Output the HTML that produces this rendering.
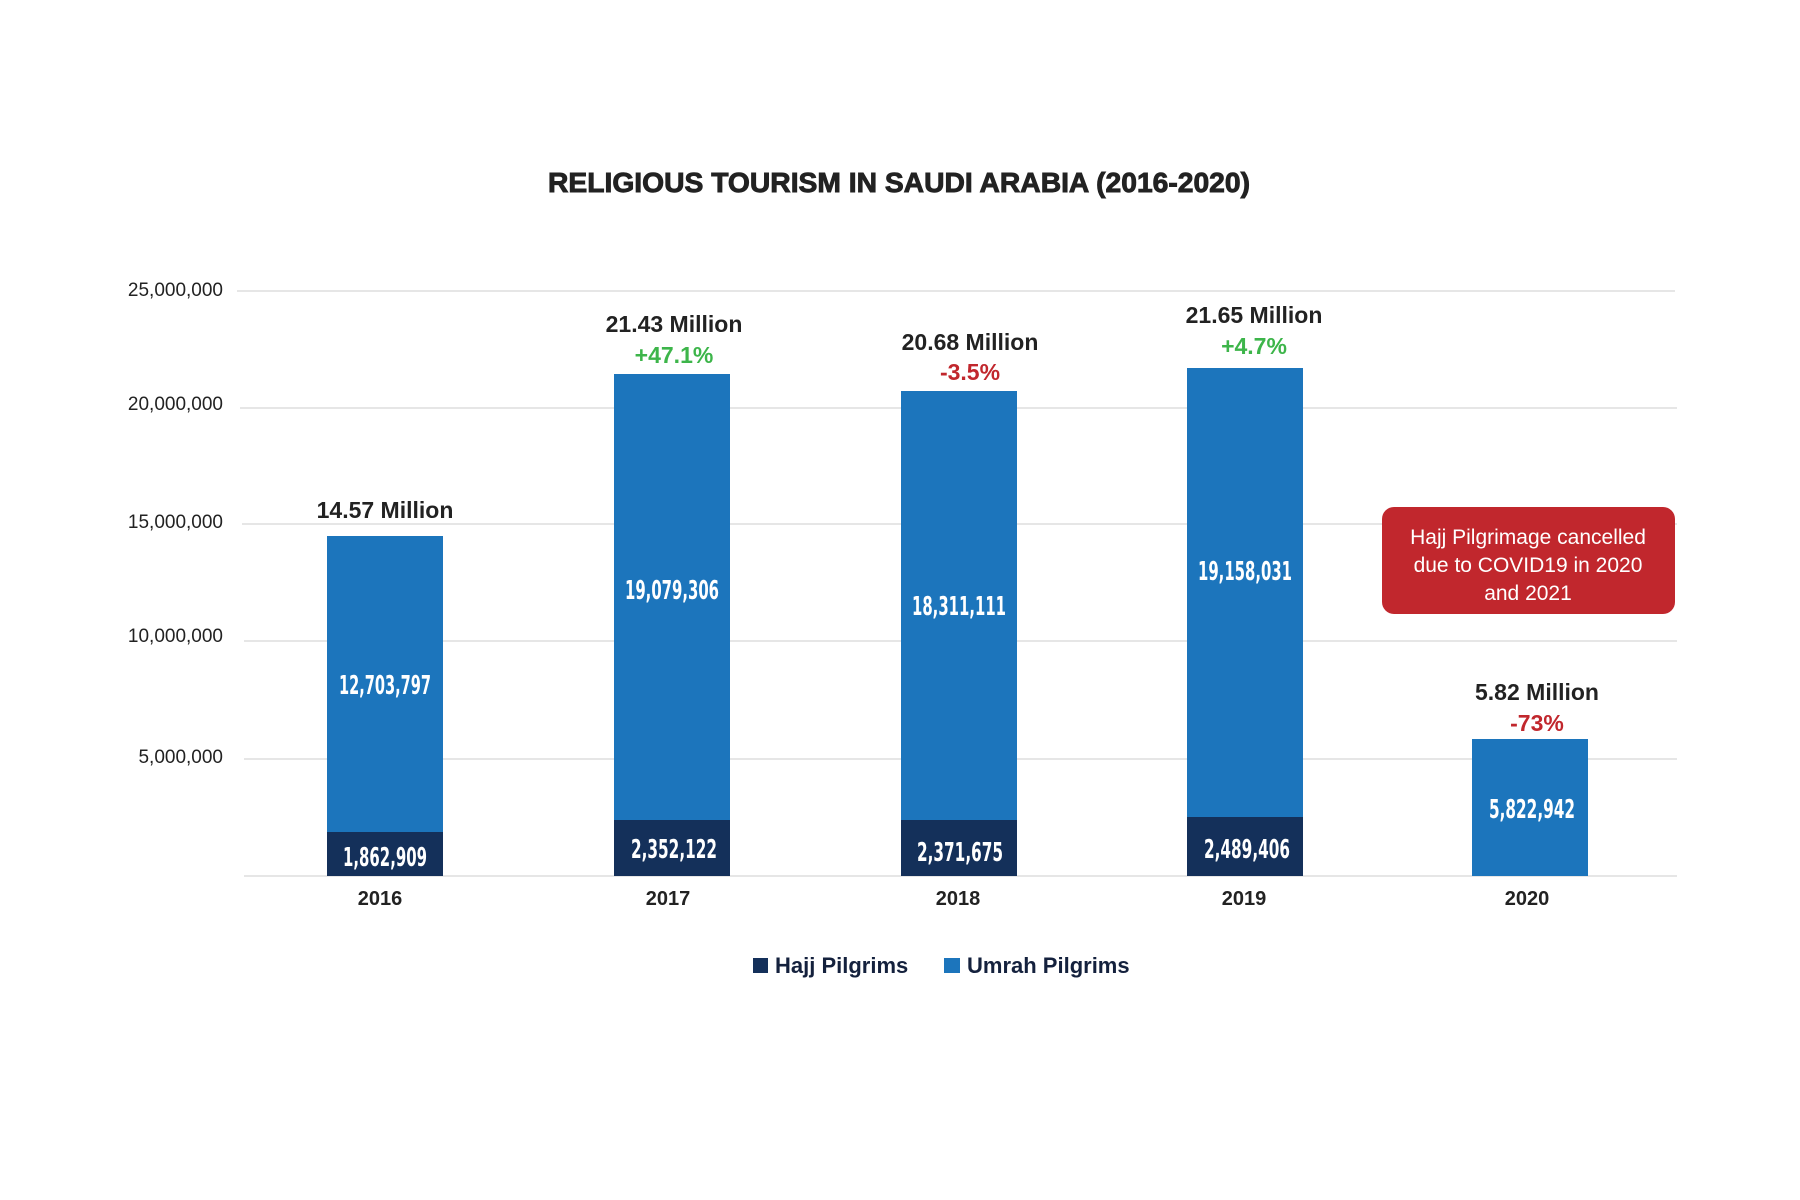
<!DOCTYPE html>
<html><head><meta charset="utf-8"><style>
html,body{margin:0;padding:0;background:#fff;}
svg{display:block;}
</style></head><body>
<svg width="1800" height="1200" viewBox="0 0 1800 1200" xmlns="http://www.w3.org/2000/svg">
<rect width="1800" height="1200" fill="#fff"/>
<text x="548" y="192" font-family="Liberation Sans, sans-serif" font-weight="bold" font-size="28" fill="#222" stroke="#222" stroke-width="0.9" textLength="702" lengthAdjust="spacingAndGlyphs">RELIGIOUS TOURISM IN SAUDI ARABIA (2016-2020)</text>
<g stroke="#e6e6e6" stroke-width="2">
<line x1="237" y1="291" x2="1675" y2="291"/>
<line x1="240" y1="408" x2="1677" y2="408"/>
<line x1="242" y1="524" x2="1677" y2="524"/>
<line x1="244" y1="641" x2="1677" y2="641"/>
<line x1="244" y1="759" x2="1677" y2="759"/>
<line x1="244" y1="876" x2="1677" y2="876"/>
</g>
<g font-family="Liberation Sans, sans-serif" font-size="19" fill="#222" text-anchor="end">
<text x="223" y="296">25,000,000</text>
<text x="223" y="410">20,000,000</text>
<text x="223" y="528">15,000,000</text>
<text x="223" y="642">10,000,000</text>
<text x="223" y="763">5,000,000</text>
</g>
<g>
<rect x="327" y="536" width="116" height="340" fill="#1c75bc"/>
<rect x="327" y="832" width="116" height="44" fill="#14305a"/>
<rect x="614" y="374" width="116" height="502" fill="#1c75bc"/>
<rect x="614" y="820" width="116" height="56" fill="#14305a"/>
<rect x="901" y="391" width="116" height="485" fill="#1c75bc"/>
<rect x="901" y="820" width="116" height="56" fill="#14305a"/>
<rect x="1187" y="368" width="116" height="508" fill="#1c75bc"/>
<rect x="1187" y="817" width="116" height="59" fill="#14305a"/>
<rect x="1472" y="739" width="116" height="137" fill="#1c75bc"/>
</g>
<g font-family="Liberation Sans Narrow, DejaVu Sans Condensed, Liberation Sans, sans-serif" font-weight="bold" font-size="26" fill="#fff" text-anchor="middle">
<text x="385" y="694" textLength="92" lengthAdjust="spacingAndGlyphs">12,703,797</text>
<text x="385" y="866" textLength="84" lengthAdjust="spacingAndGlyphs">1,862,909</text>
<text x="672" y="599" textLength="94" lengthAdjust="spacingAndGlyphs">19,079,306</text>
<text x="674" y="858" textLength="86" lengthAdjust="spacingAndGlyphs">2,352,122</text>
<text x="959" y="615" textLength="94" lengthAdjust="spacingAndGlyphs">18,311,111</text>
<text x="960" y="861" textLength="86" lengthAdjust="spacingAndGlyphs">2,371,675</text>
<text x="1245" y="580" textLength="94" lengthAdjust="spacingAndGlyphs">19,158,031</text>
<text x="1247" y="858" textLength="86" lengthAdjust="spacingAndGlyphs">2,489,406</text>
<text x="1532" y="818" textLength="86" lengthAdjust="spacingAndGlyphs">5,822,942</text>
</g>
<g font-family="Liberation Sans, sans-serif" font-weight="bold" font-size="23" text-anchor="middle">
<text x="385" y="518" fill="#222">14.57 Million</text>
<text x="674" y="332" fill="#222">21.43 Million</text>
<text x="674" y="363" fill="#3db54a">+47.1%</text>
<text x="970" y="350" fill="#222">20.68 Million</text>
<text x="970" y="380" fill="#c1272d">-3.5%</text>
<text x="1254" y="323" fill="#222">21.65 Million</text>
<text x="1254" y="354" fill="#3db54a">+4.7%</text>
<text x="1537" y="700" fill="#222">5.82 Million</text>
<text x="1537" y="731" fill="#c1272d">-73%</text>
</g>
<g font-family="Liberation Sans, sans-serif" font-weight="bold" font-size="20" fill="#222" text-anchor="middle">
<text x="380" y="905">2016</text>
<text x="668" y="905">2017</text>
<text x="958" y="905">2018</text>
<text x="1244" y="905">2019</text>
<text x="1527" y="905">2020</text>
</g>
<rect x="1382" y="507" width="293" height="107" rx="12" fill="#c1272d"/>
<g font-family="Liberation Sans, sans-serif" font-size="21" fill="#fff" text-anchor="middle">
<text x="1528" y="544">Hajj Pilgrimage cancelled</text>
<text x="1528" y="572">due to COVID19 in 2020</text>
<text x="1528" y="600">and 2021</text>
</g>
<rect x="753" y="958" width="15" height="15" fill="#14305a"/>
<rect x="944" y="958" width="16" height="15" fill="#1c75bc"/>
<g font-family="Liberation Sans, sans-serif" font-weight="bold" font-size="22" fill="#14213d">
<text x="775" y="973">Hajj Pilgrims</text>
<text x="967" y="973">Umrah Pilgrims</text>
</g>
</svg>
</body></html>
